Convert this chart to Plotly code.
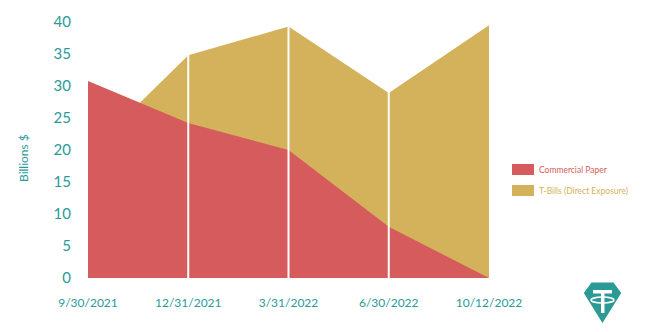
import plotly.graph_objects as go

dates = ["9/30/2021", "12/31/2021", "3/31/2022", "6/30/2022", "10/12/2022"]
commercial_paper = [30.8, 24.2, 20.0, 8.0, 0.0]
t_bills = [19.4, 34.8, 39.3, 28.9, 39.5]
y_ticks = [0, 5, 10, 15, 20, 25, 30, 35, 40]
series_names = ["Commercial Paper", "T-Bills (Direct Exposure)"]

RED = "#D65B5C"
GOLD = "#D4B25C"
TEAL = "#2A9A9A"
LOGO = "#2B9A94"
FONT = "Lato"

W, H = 647, 332
L, R, T, B = 88, 158, 22, 54
PW, PH = W - L - R, H - T - B


def px(x, y):
    """pixel position -> paper coords"""
    return (x - L) / PW, (H - B - y) / PH


def rect(x0, y0, x1, y1, color, lw=0, lc=None, kind="rect", fill=True):
    a, b = px(x0, y1)
    c, d = px(x1, y0)
    return dict(type=kind, xref="paper", yref="paper", x0=a, x1=c, y0=b, y1=d,
                fillcolor=color if fill else "rgba(0,0,0,0)",
                line=dict(width=lw, color=lc or color), layer="above")


fig = go.Figure()
fig.add_trace(go.Scatter(
    x=dates, y=t_bills, mode="none", fill="tozeroy", fillcolor=GOLD,
    name=series_names[1], showlegend=False,
))
fig.add_trace(go.Scatter(
    x=dates, y=commercial_paper, mode="none", fill="tozeroy", fillcolor=RED,
    name=series_names[0], showlegend=False,
))

shapes = []
for d in dates[1:-1]:
    shapes.append(dict(type="line", xref="x", yref="paper", x0=d, x1=d, y0=0, y1=1,
                       line=dict(color="white", width=2), layer="above"))

annotations = []
# manual legend
for i, (nm, col) in enumerate(zip(series_names, [RED, GOLD])):
    yc = 169.5 + i * 21
    shapes.append(rect(512, yc - 5.5, 534, yc + 5.5, col))
    tx, ty = px(537, yc)
    annotations.append(dict(xref="paper", yref="paper", x=tx, y=ty, text=nm, showarrow=False,
                            xanchor="left", yanchor="middle",
                            font=dict(family=FONT, size=8.5, color=col)))

# y axis title
ax, ay = px(23, 158)
annotations.append(dict(xref="paper", yref="paper", x=ax, y=ay, text="Billions $", showarrow=False,
                        textangle=-90, xanchor="center", yanchor="middle",
                        font=dict(family=FONT, size=12, color=TEAL)))

# logo diamond
pts = [(592, 283.5), (613, 283.5), (620, 293), (602.5, 321), (585, 293)]
path = "M " + " L ".join(f"{px(x, y)[0]:.4f},{px(x, y)[1]:.4f}" for x, y in pts) + " Z"
shapes.append(dict(type="path", xref="paper", yref="paper", path=path,
                   fillcolor=LOGO, line=dict(color=LOGO, width=2, ), layer="above"))
# tether glyph
shapes.append(rect(593, 290, 612, 293.5, "white"))
shapes.append(rect(601, 290, 604.5, 313, "white"))
shapes.append(rect(591, 297, 614, 303, "white", lw=1.6, lc="white", kind="circle", fill=False))

fig.update_layout(
    width=W, height=H,
    margin=dict(l=L, r=R, t=T, b=B, autoexpand=False),
    paper_bgcolor="white", plot_bgcolor="white",
    font=dict(family=FONT, color=TEAL),
    showlegend=False,
    shapes=shapes,
    annotations=annotations,
    xaxis=dict(type="category", range=[0, len(dates) - 1], showgrid=False, zeroline=False,
               showline=False, ticks="", tickfont=dict(size=12, color=TEAL),
               ticklabelstandoff=16, fixedrange=True),
    yaxis=dict(range=[0, 40], tickvals=y_ticks, showgrid=False, zeroline=False,
               showline=False, ticks="", tickfont=dict(size=15, color=TEAL),
               ticklabelstandoff=16, fixedrange=True),
)

fig.write_html("out.html")
